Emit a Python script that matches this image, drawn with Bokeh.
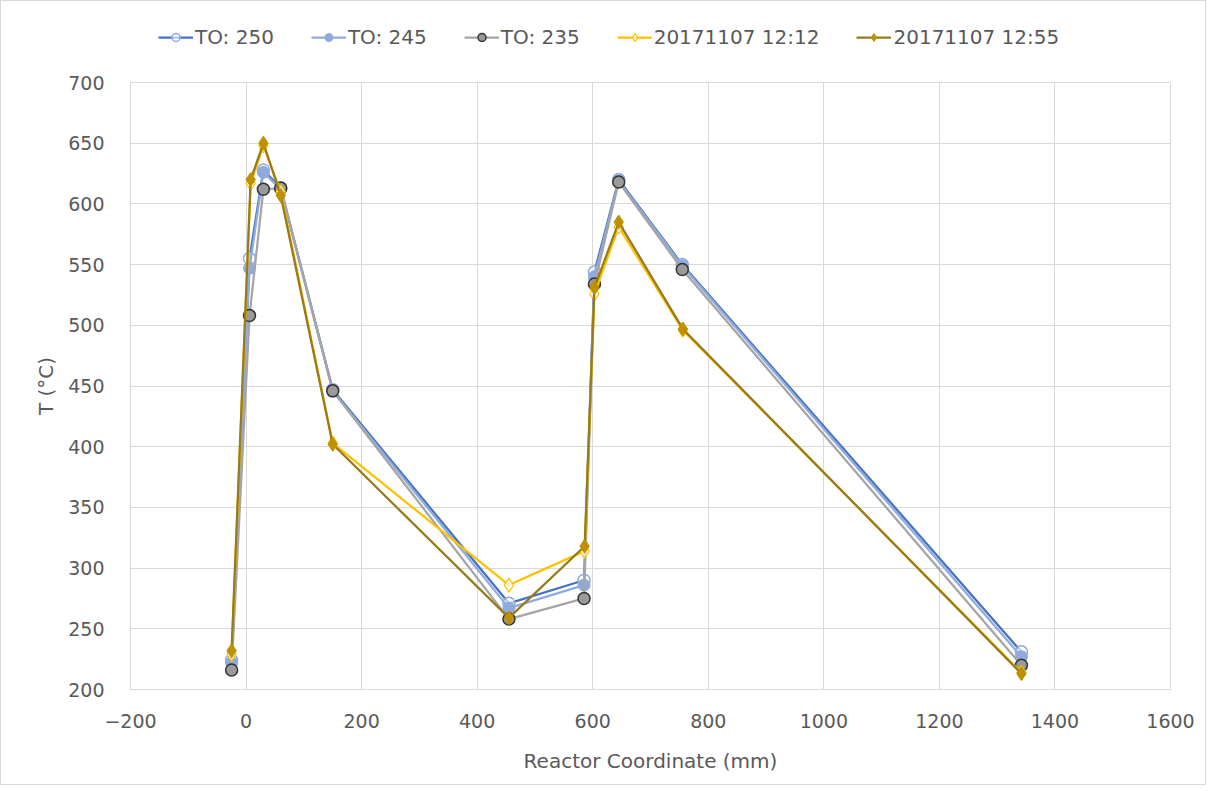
from bokeh.plotting import figure
from bokeh.models import Legend, LegendItem, FixedTicker, Range1d
from bokeh.layouts import column
from bokeh.embed import file_html
from bokeh.resources import INLINE

# ---- data ----
x_to = [-25, 6, 30, 60, 150, 455, 585, 603, 645, 755, 1342]
x_run = [-25, 8, 30, 60, 150, 455, 586, 603, 645, 756, 1342]

to_250 = [224, 555, 628, 613, 447, 271, 290, 544, 620, 550, 231]
to_245 = [222, 547, 626, 612, 446, 267, 286, 540, 619, 549, 227]
to_235 = [216, 508, 612, 613, 446, 258, 275, 534, 618, 546, 220]
run_1212 = [229, 617, 648, 610, 403, 286, 314, 526, 581, 496, 214]
run_1255 = [232, 620, 650, 607, 402, 259, 318, 531, 585, 497, 213]

x_ticks = [-200, 0, 200, 400, 600, 800, 1000, 1200, 1400, 1600]
y_ticks = [200, 250, 300, 350, 400, 450, 500, 550, 600, 650, 700]

FONT = "DejaVu Sans"
TXT = "#595959"
LW = 2.25
W = 1204


def add_series(fig):
    out = []
    l1 = fig.line(x_to, to_250, line_color="#4472C4", line_width=LW)
    m1 = fig.scatter(x_to, to_250, marker="circle", size=12, line_color="#8FAADC",
                     line_width=1.5, fill_color="white", fill_alpha=0.6)
    out.append(("TO: 250", [l1, m1]))
    l2 = fig.line(x_to, to_245, line_color="#8FAADC", line_width=LW)
    m2 = fig.scatter(x_to, to_245, marker="circle", size=12, line_color="#8FAADC",
                     line_width=1, fill_color="#8FAADC")
    out.append(("TO: 245", [l2, m2]))
    l3 = fig.line(x_to, to_235, line_color="#A5A5A5", line_width=LW)
    m3 = fig.scatter(x_to, to_235, marker="circle", size=12, line_color="#333333",
                     line_width=1.5, fill_color="#9A9A9A")
    out.append(("TO: 235", [l3, m3]))
    l4 = fig.line(x_run, run_1212, line_color="#FFC000", line_width=LW)
    m4 = fig.scatter(x_run, run_1212, marker="diamond", size=14, line_color="#FFC000",
                     line_width=1.2, fill_color="white", fill_alpha=0.7)
    out.append(("20171107 12:12", [l4, m4]))
    l5 = fig.line(x_run, run_1255, line_color="#977A1A", line_width=LW)
    m5 = fig.scatter(x_run, run_1255, marker="diamond", size=14, line_color="#BF9000",
                     line_width=1, fill_color="#BF9000")
    out.append(("20171107 12:55", [l5, m5]))
    return out


# ---- main chart ----
p = figure(width=W, height=714, output_backend="svg", toolbar_location=None,
           x_range=Range1d(-200, 1600), y_range=Range1d(200, 700),
           min_border_left=129, min_border_right=35, min_border_top=12, min_border_bottom=95)
p.outline_line_color = "#D9D9D9"
p.outline_line_width = 1
p.background_fill_color = "white"
p.border_fill_color = "white"

p.xaxis.ticker = FixedTicker(ticks=x_ticks)
p.yaxis.ticker = FixedTicker(ticks=y_ticks)
for ax in (p.xaxis[0], p.yaxis[0]):
    ax.axis_line_color = None
    ax.major_tick_line_color = None
    ax.minor_tick_line_color = None
    ax.major_label_text_font = FONT
    ax.major_label_text_font_size = "19px"
    ax.major_label_text_color = TXT
    ax.axis_label_text_font = FONT
    ax.axis_label_text_font_size = "20px"
    ax.axis_label_text_font_style = "normal"
    ax.axis_label_text_color = TXT
p.xaxis.axis_label = "Reactor Coordinate (mm)"
p.yaxis.axis_label = "T (°C)"
p.xaxis.major_label_standoff = 18
p.yaxis.major_label_standoff = 20
p.xaxis.axis_label_standoff = 18
p.yaxis.axis_label_standoff = 7

p.xgrid.grid_line_color = "#D9D9D9"
p.ygrid.grid_line_color = "#D9D9D9"

add_series(p)

# ---- legend strip (same series, drawn out of view; only the legend shows) ----
pl = figure(width=W, height=69, output_backend="svg", toolbar_location=None,
            x_range=Range1d(5000, 5001), y_range=Range1d(-10, -9),
            x_axis_type=None, y_axis_type=None, min_border=0)
pl.outline_line_color = None
pl.grid.visible = False
series = add_series(pl)
items = [LegendItem(label=lab, renderers=rs) for lab, rs in series]
legend = Legend(items=items, orientation="horizontal", location=(28, 21),
                label_text_font=FONT, label_text_font_size="20px",
                label_text_color=TXT, glyph_width=35, glyph_height=20,
                label_standoff=2, spacing=37, padding=4, margin=0,
                border_line_color=None, background_fill_alpha=0)
pl.add_layout(legend, "center")

layout = column(pl, p, spacing=0)
layout.styles = {"border": "1px solid #D9D9D9"}

open("out.html", "w").write(file_html(layout, INLINE))
